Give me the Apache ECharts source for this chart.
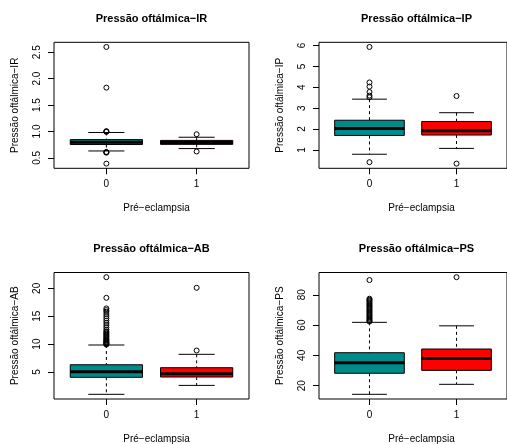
<!DOCTYPE html>
<html>
<head>
<meta charset="utf-8">
<script src="https://cdn.jsdelivr.net/npm/echarts@6/dist/echarts.min.js"></script>
<style>
  html, body { margin: 0; padding: 0; background: #fff; }
  #chart { width: 507px; height: 444px; }
</style>
</head>
<body>
<div id="chart"></div>
<script>
// Groups on the x axis (pre-eclampsia: 0 = no, 1 = yes)
const groups = ['0', '1'];
const groupColors = ['#008B8B', '#FF0000'];

// Box summaries per group: [lower whisker, Q1, median, Q3, upper whisker]
const irBox = [[0.63, 0.752, 0.795, 0.845, 0.98], [0.675, 0.755, 0.79, 0.83, 0.89]];
const irOut0 = [2.60, 1.83, 1.005, 0.998, 0.992, 0.612, 0.604, 0.598, 0.39];
const irOut1 = [0.947, 0.62];
const irTicks = [0.5, 1.0, 1.5, 2.0, 2.5];
const irTickLabels = ['0.5', '1.0', '1.5', '2.0', '2.5'];

const ipBox = [[0.79, 1.69, 2.02, 2.42, 3.43], [1.07, 1.71, 1.91, 2.36, 2.78]];
const ipOut0 = [5.93, 4.23, 4.03, 3.77, 3.60, 3.52, 0.41];
const ipOut1 = [3.58, 0.34];
const ipTicks = [1, 2, 3, 4, 5, 6];
const ipTickLabels = ['1', '2', '3', '4', '5', '6'];

const abBox = [[1.0, 4.05, 5.05, 6.3, 9.84], [2.6, 4.1, 4.7, 5.77, 8.17]];
const abOut0 = [22.0, 18.3, 16.4, 16.1, 15.8, 15.4, 15.0, 14.6, 14.2, 13.8, 13.4, 13.0,
                12.6, 12.3, 12.1, 11.9, 11.7, 11.5, 11.3, 11.1, 10.9, 10.75, 10.6, 10.45,
                10.3, 10.2, 10.1, 10.0, 9.92];
const abOut1 = [20.1, 8.85];
const abTicks = [5, 10, 15, 20];
const abTickLabels = ['5', '10', '15', '20'];

const psBox = [[14.3, 28.2, 35.2, 41.75, 61.8], [20.9, 30.1, 38.0, 44.2, 59.5]];
const psOut0 = [89.7, 77.4, 76.7, 76.0, 75.3, 74.5, 73.7, 72.9, 72.1, 71.3, 70.5, 69.7,
                68.9, 68.1, 67.3, 66.5, 65.8, 65.0, 64.3, 63.5, 62.8, 62.3];
const psOut1 = [91.6];
const psTicks = [20, 40, 60, 80];
const psTickLabels = ['20', '40', '60', '80'];

const panels = [
  { title: 'Pressão oftálmica\u2212IR', box: irBox, out: [irOut0, irOut1], ticks: irTicks, labels: irTickLabels },
  { title: 'Pressão oftálmica\u2212IP', box: ipBox, out: [ipOut0, ipOut1], ticks: ipTicks, labels: ipTickLabels },
  { title: 'Pressão oftálmica\u2212AB', box: abBox, out: [abOut0, abOut1], ticks: abTicks, labels: abTickLabels },
  { title: 'Pressão oftálmica\u2212PS', box: psBox, out: [psOut0, psOut1], ticks: psTicks, labels: psTickLabels }
];
const xName = 'Pré\u2212eclampsia';

// Plot-region placement of the 2x2 panels
const layout = [
  { left: 54, top: 42.3, width: 195, height: 126 },
  { left: 319, top: 42.3, width: 195, height: 126 },
  { left: 54, top: 272.5, width: 195, height: 126.5 },
  { left: 319, top: 272.5, width: 195, height: 126.5 }
];

const FONT = '"Liberation Sans", Arial, Helvetica, sans-serif';

// y range: data range padded by 4% on each side
function yRange(p) {
  const all = [];
  p.box.forEach(b => all.push(...b));
  p.out.forEach(o => all.push(...o));
  const lo = Math.min(...all), hi = Math.max(...all);
  const pad = (hi - lo) * 0.04;
  return [lo - pad, hi + pad];
}

// Classic box-and-whisker glyph: dashed whiskers, staples, filled box, thick median
function renderBox(params, api) {
  const x = api.value(0);
  const lo = api.coord([x, api.value(1)]);
  const q1 = api.coord([x, api.value(2)]);
  const md = api.coord([x, api.value(3)]);
  const q3 = api.coord([x, api.value(4)]);
  const hi = api.coord([x, api.value(5)]);
  const half = api.size([0.8, 0])[0] / 2;
  const staple = half / 2;
  const cx = lo[0];
  const color = api.visual('color');
  const black = { stroke: '#000', lineWidth: 1 };
  return {
    type: 'group',
    children: [
      { type: 'line', shape: { x1: cx, y1: hi[1], x2: cx, y2: q3[1] }, style: { stroke: '#000', lineWidth: 1, lineDash: [3, 3] } },
      { type: 'line', shape: { x1: cx, y1: q1[1], x2: cx, y2: lo[1] }, style: { stroke: '#000', lineWidth: 1, lineDash: [3, 3] } },
      { type: 'line', shape: { x1: cx - staple, y1: hi[1], x2: cx + staple, y2: hi[1] }, style: black },
      { type: 'line', shape: { x1: cx - staple, y1: lo[1], x2: cx + staple, y2: lo[1] }, style: black },
      { type: 'rect', shape: { x: cx - half, y: q3[1], width: half * 2, height: q1[1] - q3[1] }, style: { fill: color, stroke: '#000', lineWidth: 1 } },
      { type: 'line', shape: { x1: cx - half, y1: md[1], x2: cx + half, y2: md[1] }, style: { stroke: '#000', lineWidth: 3 } }
    ]
  };
}

const grid = [], xAxis = [], yAxis = [], series = [], graphic = [];

panels.forEach((p, i) => {
  const g = layout[i];
  grid.push({ left: g.left, top: g.top, width: g.width, height: g.height, show: true, borderColor: '#000', borderWidth: 1, backgroundColor: 'transparent' });
  const [ymin, ymax] = yRange(p);
  xAxis.push({
    gridIndex: i, type: 'value', min: 0.42, max: 2.58,
    splitLine: { show: false }, axisLine: { show: false },
    axisTick: { show: true, customValues: [1, 2], length: 6, inside: false, lineStyle: { color: '#000' } },
    axisLabel: { customValues: [1, 2], margin: 11, fontSize: 10, fontFamily: FONT, color: '#000',
                 formatter: v => groups[Math.round(v) - 1] }
  });
  yAxis.push({
    gridIndex: i, type: 'value', min: ymin, max: ymax,
    splitLine: { show: false }, axisLine: { show: false },
    axisTick: { show: true, customValues: p.ticks, length: 6, lineStyle: { color: '#000' } },
    axisLabel: { customValues: p.ticks, rotate: 90, margin: 12, fontSize: 10, fontFamily: FONT, color: '#000',
                 formatter: v => { const k = p.ticks.findIndex(t => Math.abs(t - v) < 1e-9); return k >= 0 ? p.labels[k] : ''; } }
  });
  series.push({
    type: 'custom', xAxisIndex: i, yAxisIndex: i, renderItem: renderBox, silent: true,
    data: p.box.map((b, k) => ({ value: [k + 1, ...b], itemStyle: { color: groupColors[k] } }))
  });
  const pts = [];
  p.out.forEach((arr, k) => arr.forEach(v => pts.push([k + 1, v])));
  series.push({
    type: 'scatter', xAxisIndex: i, yAxisIndex: i, symbol: 'circle', symbolSize: 5, silent: true,
    itemStyle: { color: 'rgba(255,255,255,0)', borderColor: '#000', borderWidth: 1, opacity: 1 },
    data: pts, z: 5
  });
  const cx = g.left + g.width / 2;
  const cy = g.top + g.height / 2;
  graphic.push({ type: 'text', x: cx, y: g.top - 23.5, style: { text: p.title, textAlign: 'center', textVerticalAlign: 'middle', font: 'bold 11px ' + FONT, fill: '#000' } });
  graphic.push({ type: 'text', x: cx + 5, y: g.top + g.height + 40, style: { text: xName, textAlign: 'center', textVerticalAlign: 'middle', font: '10px ' + FONT, fill: '#000' } });
  graphic.push({ type: 'text', x: g.left - 39, y: cy, rotation: Math.PI / 2, style: { text: 'Pressão oftálmica\u2212' + p.title.split('\u2212')[1], textAlign: 'center', textVerticalAlign: 'middle', font: '10px ' + FONT, fill: '#000' } });
});

const chart = echarts.init(document.getElementById('chart'), null, { renderer: 'canvas' });
chart.setOption({ animation: false, backgroundColor: '#fff', grid, xAxis, yAxis, series, graphic });
</script>
</body>
</html>
